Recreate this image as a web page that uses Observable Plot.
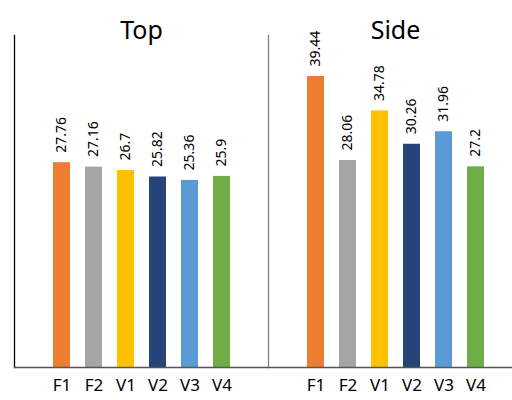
<!DOCTYPE html>
<html>
<head>
<meta charset="utf-8">
<script src="https://cdn.jsdelivr.net/npm/d3@7"></script>
<script src="https://cdn.jsdelivr.net/npm/@observablehq/plot@0.6"></script>
<style>
  html, body { margin: 0; padding: 0; background: #fff; }
  svg text { font-family: 'Noto Sans', 'Open Sans', sans-serif; }
</style>
</head>
<body>
<div id="chart"></div>
<script>
const categories = ["F1", "F2", "V1", "V2", "V3", "V4"];
const panels = ["Top", "Side"];
const topValues = [27.76, 27.16, 26.7, 25.82, 25.36, 25.9];
const sideValues = [39.44, 28.06, 34.78, 30.26, 31.96, 27.2];
const colors = ["#ED7D31", "#A5A5A5", "#FFC000", "#264478", "#5B9BD5", "#70AD47"];

const rows = [];
categories.forEach((c, i) => rows.push({panel: "Top", cat: c, value: topValues[i]}));
categories.forEach((c, i) => rows.push({panel: "Side", cat: c, value: sideValues[i]}));

const chart = Plot.plot({
  width: 512,
  height: 400,
  marginLeft: 14,
  marginRight: -10,
  marginTop: 35,
  marginBottom: 33,
  style: {fontSize: "16px", color: "#000", background: "#fff"},
  fx: {domain: panels, padding: 0, axis: null},
  x: {domain: categories, paddingInner: 0.47, paddingOuter: 1.18, align: 0.5, axis: null},
  y: {domain: [0, 45], axis: null},
  color: {domain: categories, range: colors},
  marks: [
    Plot.barY(rows, {fx: "panel", x: "cat", y: "value", fill: "cat", inset: 0}),
    Plot.text(rows, {fx: "panel", x: "cat", y: "value", text: d => String(d.value), rotate: -90, textAnchor: "start", dy: -10, fontSize: 14, fill: "#000"}),
    Plot.text(panels, {fx: d => d, text: d => d, frameAnchor: "top", dy: -14, fontSize: 25, fill: "#000"}),
    Plot.text(rows, {fx: "panel", x: "cat", text: "cat", frameAnchor: "bottom", dy: 23, fontSize: 17, fill: "#000"}),
    Plot.frame({anchor: "left", fx: ["Top"], stroke: "#000", strokeWidth: 1.3}),
    Plot.frame({anchor: "left", fx: ["Side"], stroke: "#808080", strokeWidth: 1.3}),
    Plot.ruleY([0], {stroke: "#555", strokeWidth: 1.3})
  ]
});
document.getElementById("chart").appendChild(chart);
</script>
</body>
</html>
